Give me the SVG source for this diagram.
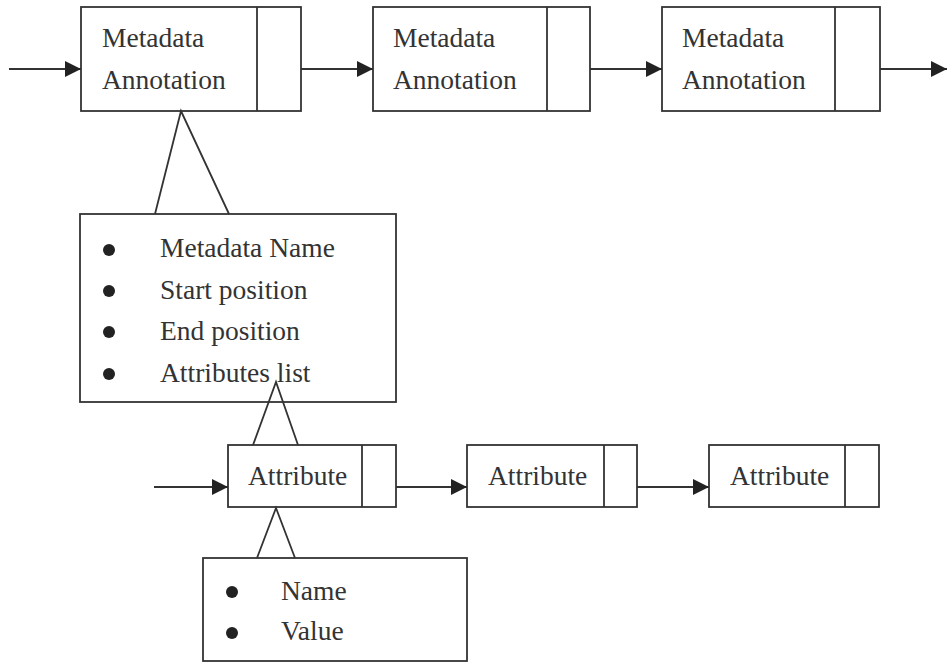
<svg xmlns="http://www.w3.org/2000/svg" width="947" height="663" viewBox="0 0 947 663">
  <defs>
    <marker id="arrow" markerUnits="userSpaceOnUse" markerWidth="18" markerHeight="16" refX="16" refY="8" orient="auto">
      <path d="M0,0 L16,8 L0,16 Z" fill="#222"/>
    </marker>
    <style>
      .box { fill: #fff; stroke: #333; stroke-width: 1.8; }
      .line { fill: none; stroke: #333; stroke-width: 1.8; }
      .conn { fill: none; stroke: #333; stroke-width: 1.8; marker-end: url(#arrow); }
      .tri { fill: none; stroke: #333; stroke-width: 1.8; stroke-linejoin: miter; }
      .lbl { font-family: "Liberation Serif", "Times New Roman", serif; font-size: 27.5px; fill: #333; }
      .dot { fill: #222; }
    </style>
  </defs>
  <rect width="947" height="663" fill="#fff"/>

  <!-- metadata annotation chain -->
  <g id="annotation1">
    <rect class="box" x="81" y="7" width="220" height="104"/>
    <line class="line" x1="257" y1="7" x2="257" y2="111"/>
    <text class="lbl" x="102" y="47">Metadata</text>
    <text class="lbl" x="102" y="89">Annotation</text>
  </g>
  <g id="annotation2">
    <rect class="box" x="373" y="7" width="217" height="104"/>
    <line class="line" x1="547" y1="7" x2="547" y2="111"/>
    <text class="lbl" x="393" y="47">Metadata</text>
    <text class="lbl" x="393" y="89">Annotation</text>
  </g>
  <g id="annotation3">
    <rect class="box" x="662" y="7" width="218" height="104"/>
    <line class="line" x1="835" y1="7" x2="835" y2="111"/>
    <text class="lbl" x="682" y="47">Metadata</text>
    <text class="lbl" x="682" y="89">Annotation</text>
  </g>

  <!-- fields of an annotation -->
  <g id="annotationFields">
    <rect class="box" x="80" y="214" width="316" height="188"/>
    <circle class="dot" cx="109" cy="250" r="6"/>
    <circle class="dot" cx="109" cy="291" r="6"/>
    <circle class="dot" cx="109" cy="332" r="6"/>
    <circle class="dot" cx="109" cy="374" r="6"/>
    <text class="lbl" x="160" y="257">Metadata Name</text>
    <text class="lbl" x="160" y="299">Start position</text>
    <text class="lbl" x="160" y="340">End position</text>
    <text class="lbl" x="160" y="382">Attributes list</text>
  </g>

  <!-- attribute chain -->
  <g id="attribute1">
    <rect class="box" x="228" y="445" width="168" height="62"/>
    <line class="line" x1="362" y1="445" x2="362" y2="507"/>
    <text class="lbl" x="248" y="485">Attribute</text>
  </g>
  <g id="attribute2">
    <rect class="box" x="467" y="445" width="170" height="62"/>
    <line class="line" x1="604" y1="445" x2="604" y2="507"/>
    <text class="lbl" x="488" y="485">Attribute</text>
  </g>
  <g id="attribute3">
    <rect class="box" x="709" y="445" width="170" height="62"/>
    <line class="line" x1="845" y1="445" x2="845" y2="507"/>
    <text class="lbl" x="730" y="485">Attribute</text>
  </g>

  <!-- fields of an attribute -->
  <g id="attributeFields">
    <rect class="box" x="203" y="558" width="264" height="103"/>
    <circle class="dot" cx="232" cy="592" r="6"/>
    <circle class="dot" cx="232" cy="633" r="6"/>
    <text class="lbl" x="281" y="600">Name</text>
    <text class="lbl" x="281" y="640">Value</text>
  </g>

  <!-- links between list elements and to detail boxes, drawn on top -->
  <g id="connectors">
    <line class="conn" x1="9" y1="69" x2="81" y2="69"/>
    <line class="conn" x1="301" y1="69" x2="373" y2="69"/>
    <line class="conn" x1="590" y1="69" x2="662" y2="69"/>
    <line class="conn" x1="880" y1="69" x2="947" y2="69"/>
    <line class="conn" x1="154" y1="487" x2="228" y2="487"/>
    <line class="conn" x1="396" y1="487" x2="467" y2="487"/>
    <line class="conn" x1="637" y1="487" x2="709" y2="487"/>
    <polyline class="tri" points="155,214 181,111 229,214"/>
    <polyline class="tri" points="253,445 276,382 298,445"/>
    <polyline class="tri" points="257,558 276,508 295,558"/>
  </g>
</svg>
